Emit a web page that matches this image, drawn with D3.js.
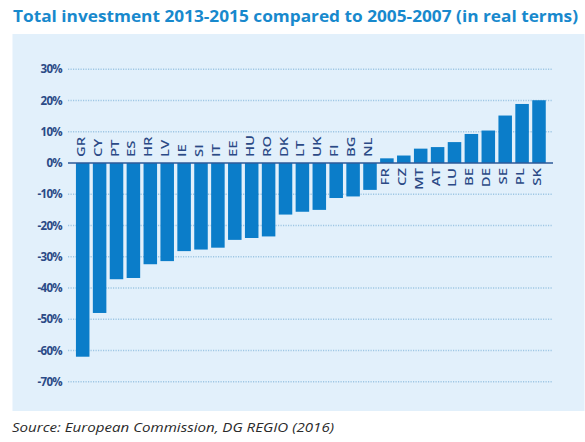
<!DOCTYPE html>
<html>
<head>
<meta charset="utf-8">
<script src="https://cdn.jsdelivr.net/npm/d3@7"></script>
<style>
  html, body { margin: 0; padding: 0; background: #ffffff; }
  svg { display: block; }
</style>
</head>
<body>
<svg id="chart" width="585" height="442"></svg>
<script>
// Change in total investment, 2013-2015 vs 2005-2007, real terms (%)
const countries = ["GR","CY","PT","ES","HR","LV","IE","SI","IT","EE","HU","RO","DK","LT","UK","FI","BG","NL","FR","CZ","MT","AT","LU","BE","DE","SE","PL","SK"];
const changes = [-62, -48, -37.2, -36.8, -32.4, -31.4, -28.2, -27.7, -27.1, -24.6, -24, -23.5, -16.5, -15.6, -15, -11.2, -10.7, -8.6, 1.5, 2.4, 4.6, 5.1, 6.7, 9.3, 10.4, 15.2, 18.9, 20.1];
const yTicks = [30, 20, 10, 0, -10, -20, -30, -40, -50, -60, -70];

const titleText = "Total investment 2013-2015 compared to 2005-2007 (in real terms)";
const sourceText = "Source: European Commission, DG REGIO (2016)";

const svg = d3.select("#chart");

// background panel
svg.append("rect")
  .attr("x", 12.5).attr("y", 34)
  .attr("width", 572).attr("height", 377)
  .attr("fill", "#e2f0fb");

// title
svg.append("text")
  .attr("x", 13).attr("y", 22)
  .attr("font-family", "'Open Sans', sans-serif")
  .attr("font-weight", 700)
  .attr("font-size", 16.5)
  .attr("fill", "#1889cd")
  .attr("textLength", 565)
  .attr("lengthAdjust", "spacingAndGlyphs")
  .text(titleText);

// source
svg.append("text")
  .attr("x", 12).attr("y", 432)
  .attr("font-family", "'Open Sans', sans-serif")
  .attr("font-style", "italic")
  .attr("font-size", 12.5)
  .attr("fill", "#2a2a2a")
  .attr("textLength", 322)
  .attr("lengthAdjust", "spacingAndGlyphs")
  .text(sourceText);

const x = d3.scaleBand()
  .domain(countries)
  .range([68, 553.7])
  .paddingInner(0.2)
  .paddingOuter(0.47);

const y = d3.scaleLinear()
  .domain([-70, 30])
  .range([381.7, 69.3]);

// dotted gridlines
svg.append("g")
  .selectAll("line")
  .data(yTicks.filter(t => t !== 0))
  .join("line")
  .attr("x1", 68).attr("x2", 553)
  .attr("y1", d => y(d)).attr("y2", d => y(d))
  .attr("stroke", "#9ec6e4")
  .attr("stroke-width", 1.6)
  .attr("stroke-dasharray", "1.2,1.3");

// y axis labels
const yAxis = d3.axisLeft(y)
  .tickValues(yTicks)
  .tickSize(0)
  .tickPadding(0)
  .tickFormat(d => d + "%");

const yg = svg.append("g")
  .attr("transform", "translate(62,0)")
  .call(yAxis);
yg.select(".domain").remove();
yg.selectAll("text")
  .attr("font-family", "'Open Sans', sans-serif")
  .attr("font-weight", 700)
  .attr("font-size", 11.5)
  .attr("letter-spacing", -0.7)
  .attr("fill", "#2b4a86");

// bars
svg.append("g")
  .selectAll("rect")
  .data(countries.map((c, i) => ({ c, v: changes[i] })))
  .join("rect")
  .attr("x", d => x(d.c))
  .attr("width", x.bandwidth())
  .attr("y", d => y(Math.max(0, d.v)))
  .attr("height", d => Math.abs(y(d.v) - y(0)))
  .attr("fill", "#0b7dc9");

// zero line
svg.append("line")
  .attr("x1", 68).attr("x2", 553)
  .attr("y1", y(0)).attr("y2", y(0))
  .attr("stroke", "#2c5a98")
  .attr("stroke-width", 1.5);

// country labels, vertical, on the opposite side of the bar
svg.append("g")
  .selectAll("text")
  .data(countries.map((c, i) => ({ c, v: changes[i] })))
  .join("text")
  .attr("transform", d => {
    const cx = x(d.c) + x.bandwidth() / 2 + 2;
    const cy = d.v < 0 ? y(0) - 6 : y(0) + 5;
    return `translate(${cx},${cy}) rotate(-90) scale(1.35,1)`;
  })
  .attr("text-anchor", d => d.v < 0 ? "start" : "end")
  .attr("font-family", "'Open Sans', sans-serif")
  .attr("font-weight", 600)
  .attr("font-size", 11)
  .attr("fill", "#2b4a86")
  .text(d => d.c);
</script>
</body>
</html>
